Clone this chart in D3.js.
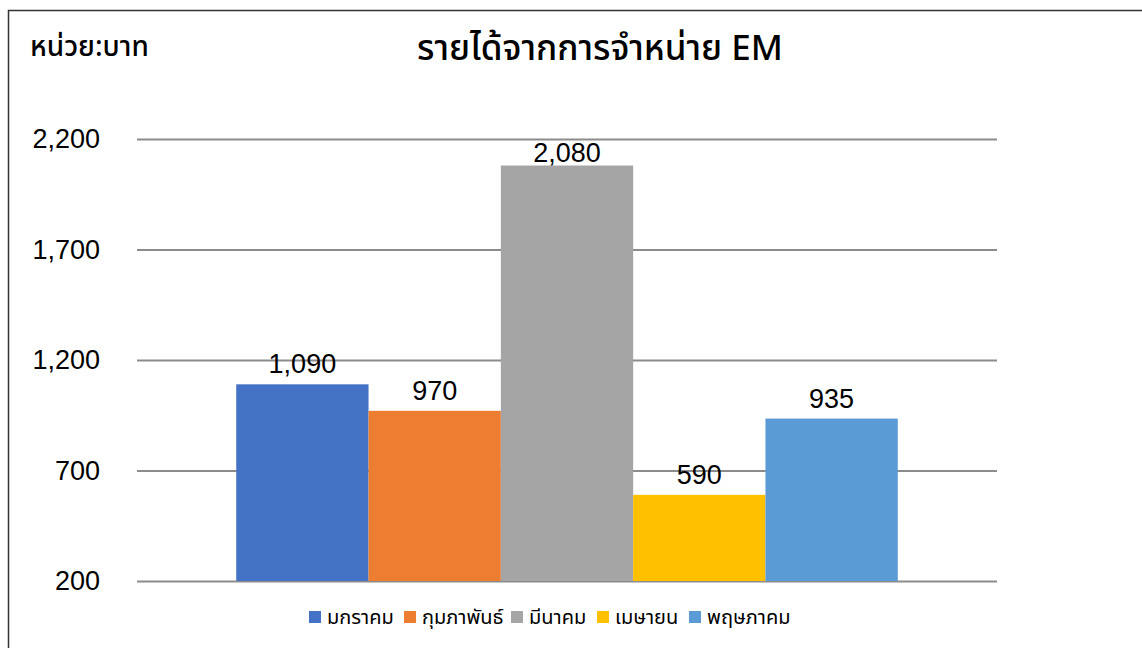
<!DOCTYPE html>
<html><head><meta charset="utf-8">
<script src="https://cdn.jsdelivr.net/npm/d3@7"></script>
<style>body{margin:0;background:#fff}svg{display:block}</style>
</head><body>
<svg id="c" width="1142" height="648"></svg>
<script>
const categories = ["มกราคม","กุมภาพันธ์","มีนาคม","เมษายน","พฤษภาคม"];
const values = [1090, 970, 2080, 590, 935];
const colors = ["#4472C4","#ED7D31","#A5A5A5","#FFC000","#5B9BD5"];
const yTicks = [200, 700, 1200, 1700, 2200];
const title = "รายได้จากการจำหน่าย EM";
const unitLabel = "หน่วย:บาท";

const svg = d3.select("#c");
const thai = "'Noto Sans Thai','Leelawadee UI',Tahoma,'Noto Sans',sans-serif";
const num = "'Liberation Sans',Arial,sans-serif";

// frame
svg.append("path").attr("d","M8.5,648 V10.5 H1142").attr("fill","none").attr("stroke","#333").attr("stroke-width",1.5);

const plotL = 137, plotR = 997, plotT = 139, plotB = 581;
const y = d3.scaleLinear().domain([200,2200]).range([plotB, plotT]);
const gap = 1.5; // gap width 150%
const W = plotR - plotL;
const barW = W / (categories.length + gap);
const x = d3.scaleBand().domain(categories).range([plotL + barW*gap/2, plotR - barW*gap/2]).padding(0);

// grid
const yAxis = d3.axisLeft(y).tickValues(yTicks).tickSize(-(plotR-plotL)).tickFormat(d3.format(","));
const ga = svg.append("g").attr("transform",`translate(${plotL},0)`).call(yAxis);
ga.select(".domain").remove();
ga.selectAll(".tick line").attr("stroke","#8c8c8c").attr("stroke-width",2);
ga.selectAll(".tick text").attr("x",-37).attr("font-family",num).attr("font-size",27).attr("fill","#000");

// bars
svg.selectAll("rect.bar").data(values).join("rect").attr("class","bar")
  .attr("x",(d,i)=>x(categories[i])).attr("width",x.bandwidth())
  .attr("y",d=>y(d)).attr("height",d=>plotB-y(d))
  .attr("fill",(d,i)=>colors[i]);

// labels
svg.selectAll("text.lbl").data(values).join("text").attr("class","lbl")
  .attr("x",(d,i)=>x(categories[i])+x.bandwidth()/2).attr("y",d=>Math.max(y(d)-11, 162))
  .attr("text-anchor","middle").attr("font-family",num).attr("font-size",27).attr("fill","#000")
  .text(d=>d3.format(",")(d));

// title
svg.append("text").attr("x",600).attr("y",60).attr("text-anchor","middle")
  .attr("font-family",thai).attr("font-size",35).attr("font-weight",500).text(title);
svg.append("text").attr("x",30).attr("y",56)
  .attr("font-family",thai).attr("font-size",28).attr("font-weight",500).text(unitLabel);

// legend
const lg = svg.append("g").attr("transform","translate(0,617)");
const lx = [309, 404, 511, 597, 689];
const items = lg.selectAll("g").data(categories).join("g").attr("transform",(d,i)=>`translate(${lx[i]},0)`);
items.append("rect").attr("x",0).attr("y",-6).attr("width",12).attr("height",12).attr("fill",(d,i)=>colors[i]);
items.append("text").attr("x",18).attr("y",7).attr("font-family",thai).attr("font-size",20).attr("fill","#000").text(d=>d);
</script>
</body></html>
